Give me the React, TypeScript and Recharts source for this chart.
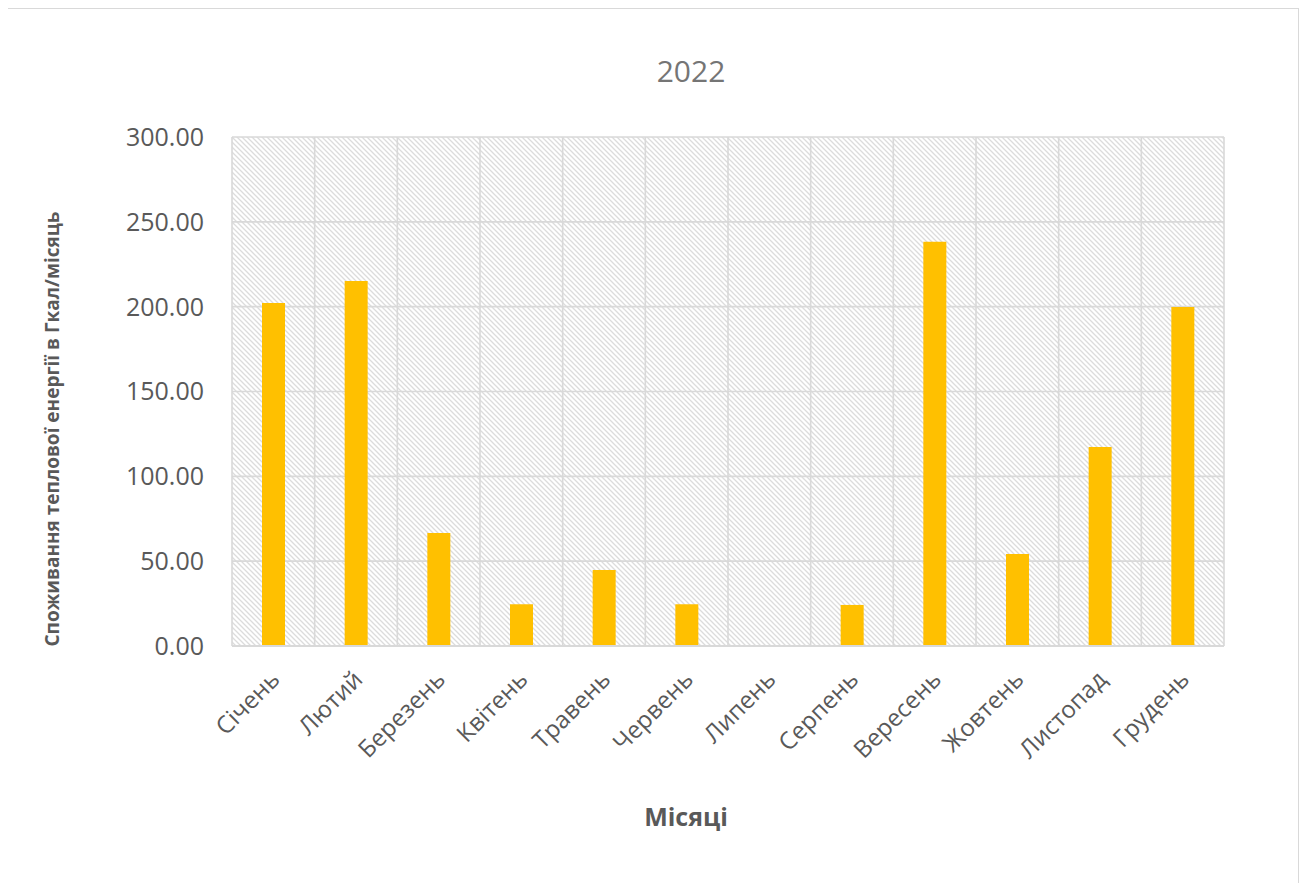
import { BarChart, Bar, XAxis, YAxis, CartesianGrid, Label } from "recharts";

const MONTHS = [
  "Січень",
  "Лютий",
  "Березень",
  "Квітень",
  "Травень",
  "Червень",
  "Липень",
  "Серпень",
  "Вересень",
  "Жовтень",
  "Листопад",
  "Грудень",
];

const HEAT_GCAL = [202.1, 215.1, 66.6, 24.6, 44.8, 24.6, 0, 24.2, 238.3, 54.2, 117.3, 199.8];

const Y_TICKS = [0, 50, 100, 150, 200, 250, 300];

const TITLE = "2022";
const Y_TITLE = "Споживання теплової енергії в Гкал/місяць";
const X_TITLE = "Місяці";

const FONT = "'Open Sans', 'Noto Sans', sans-serif";
const TEXT_COLOR = "#595959";
const GRID_COLOR = "#d9d9d9";
const BAR_COLOR = "#FFC000";

const W = 1291;
const H = 880;

const data = MONTHS.map((month, i) => ({ month, value: HEAT_GCAL[i] }));

function MonthTick(props: { x?: number; y?: number; payload?: { value?: string } }) {
  const { x, y, payload } = props;
  if (x == null || y == null) return null;
  const ax = Number(x) + 8;
  const ay = Number(y) + 27;
  return (
    <text
      x={ax}
      y={ay}
      textAnchor="end"
      fill={TEXT_COLOR}
      fontSize={24}
      fontFamily={FONT}
      transform={`rotate(-45 ${ax} ${ay})`}
    >
      {payload?.value}
    </text>
  );
}

// vertical grid lines sit on category boundaries, not on tick centres
function boundaryLines({ offset }: { offset: { left: number; width: number } }) {
  const n = MONTHS.length;
  const out: number[] = [];
  for (let i = 0; i <= n; i++) out.push(offset.left + (offset.width * i) / n);
  return out;
}

export default function App() {
  return (
    <div style={{ position: "relative", width: W, height: H }}>
      <style>{"body{overflow:hidden}"}</style>
      <svg width={0} height={0} style={{ position: "absolute" }}>
        <defs>
          <pattern id="hatch" patternUnits="userSpaceOnUse" width={5} height={5}>
            <path
              d="M0,0 L5,5 M-1,4 L1,6 M4,-1 L6,1"
              stroke="#dcdcdc"
              strokeWidth={1.3}
            />
          </pattern>
        </defs>
      </svg>
      <div
        style={{
          position: "absolute",
          left: 683,
          top: 42,
          transform: "translateX(-50%)",
          fontFamily: FONT,
          fontSize: 30,
          color: "#757575",
        }}
      >
        {TITLE}
      </div>
      <BarChart
        width={W}
        height={H}
        data={data}
        margin={{ top: 129, right: 75, left: 0, bottom: 0 }}
        barSize={23}
      >
        <CartesianGrid
          stroke={GRID_COLOR}
          strokeWidth={1.6}
          fill="url(#hatch)"
          verticalCoordinatesGenerator={boundaryLines as any}
        />
        <XAxis
          dataKey="month"
          height={242}
          interval={0}
          tickLine={false}
          axisLine={{ stroke: GRID_COLOR, strokeWidth: 1.8 }}
          tick={MonthTick}
        >
          <Label
            content={() => (
              <text
                x={678}
                y={818}
                textAnchor="middle"
                fill={TEXT_COLOR}
                fontSize={25}
                fontWeight="bold"
                fontFamily={FONT}
              >
                {X_TITLE}
              </text>
            )}
          />
        </XAxis>
        <YAxis
          width={224}
          domain={[0, 300]}
          ticks={Y_TICKS}
          tickFormatter={(v: number) => v.toFixed(2)}
          axisLine={false}
          tickLine={false}
          tickSize={0}
          tickMargin={28}
          tick={{ fill: TEXT_COLOR, fontSize: 25, fontFamily: FONT }}
        >
          <Label
            content={() => (
              <text
                x={0}
                y={0}
                textAnchor="middle"
                fill={TEXT_COLOR}
                fontSize={19}
                fontWeight="bold"
                fontFamily={FONT}
                transform="translate(51 421) rotate(-90)"
              >
                {Y_TITLE}
              </text>
            )}
          />
        </YAxis>
        <Bar dataKey="value" fill={BAR_COLOR} isAnimationActive={false} />
      </BarChart>
      <div
        style={{
          position: "absolute",
          left: -1,
          top: 0,
          width: W + 1,
          height: H + 20,
          border: `1.5px solid ${GRID_COLOR}`,
          boxSizing: "border-box",
          pointerEvents: "none",
        }}
      />
    </div>
  );
}
